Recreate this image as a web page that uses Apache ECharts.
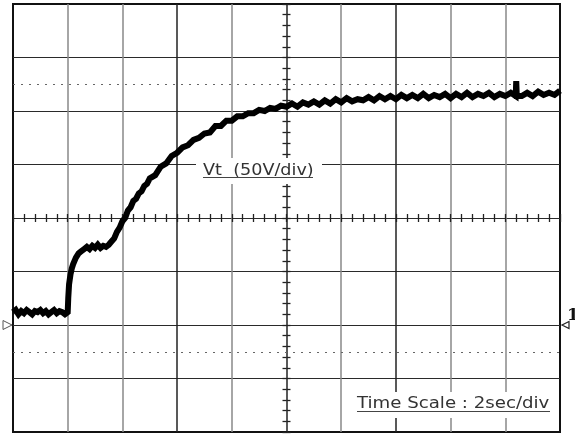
<!DOCTYPE html>
<html>
<head>
<meta charset="utf-8">
<script src="https://cdn.jsdelivr.net/npm/echarts@6/dist/echarts.min.js"></script>
<style>html,body{margin:0;padding:0;background:#fff;}#c{width:575px;height:434px;}</style>
</head>
<body>
<div id="c"></div>
<script>
// Time axis (s), 2 s/div, 10 divisions
var timeTicks = [0, 2, 4, 6, 8, 10, 12, 14, 16, 18, 20];
// Voltage axis (V), 50 V/div, ground at 0
var voltTicks = [-100, -50, 0, 50, 100, 150, 200, 250, 300];
// Dotted reference levels
var dottedLevels = [225, -25];

// Trace Vt: time (s)
var traceTime = [
  0,0.1,0.2,0.3,0.4,0.5,0.6,0.7,0.8,0.9,1.0,1.1,1.2,1.3,1.4,1.5,1.6,1.7,1.8,1.9,2.0,
  2.02,2.05,2.1,2.15,2.2,2.3,2.4,2.5,2.6,
  2.7,2.8,2.9,3.0,3.1,3.2,3.3,3.4,3.5,
  3.6,3.7,3.8,3.9,4.0,4.1,4.2,4.3,4.4,4.5,4.6,4.7,4.8,4.9,5.0,
  5.2,5.4,5.6,5.8,6.0,6.2,6.4,6.6,6.8,7.0,7.2,7.4,7.6,7.8,8.0,8.2,8.4,8.6,8.8,9.0,9.2,9.4,9.6,9.8,10.0,
  10.2,10.4,10.6,10.8,11.0,11.2,11.4,11.6,11.8,12.0,
  12.2,12.4,12.6,12.8,13.0,13.2,13.4,13.6,13.8,14.0,
  14.2,14.4,14.6,14.8,15.0,15.2,15.4,15.6,15.8,16.0,
  16.2,16.4,16.6,16.8,17.0,17.2,17.4,17.6,17.8,18.0,
  18.2,18.38,18.4,18.42,18.6,18.8,19.0,19.2,19.4,19.6,19.8,20.0
];
// Trace Vt: voltage (V)
var traceVolt = [
  12,14,10,13,11,14,12,10,13,12,14,11,13,10,12,14,11,13,12,10,12,
  25,38,47,53,57,63,67,69,71,
  73,71,74,72,75,72,74,73,75,
  78,81,87,91,97,100,107,110,116,118,123,125,130,132,137,
  140,148,151,158,161,166,168,173,175,179,180,186,186,191,191,195,195,198,198,201,200,203,202,205,204,
  207,204,208,206,209,206,210,207,211,208,
  212,209,211,210,213,210,214,211,214,211,
  215,212,215,212,216,212,215,213,216,212,
  216,213,217,213,216,214,217,213,216,214,
  217,214,228,214,214,217,214,218,215,217,215,219
];

var traceData = traceTime.map(function (t, i) { return [t, traceVolt[i]]; });

var chart = echarts.init(document.getElementById('c'), null, {renderer: 'canvas'});

// colours of inner vertical grid lines (t = 2 ... 18)
var vColors = ['#888', '#888', '#222', '#888', '#222', '#888', '#222', '#888', '#888'];
var GW = 547, GH = 428;

function tickAxisX(inside) {
  return {
    type: 'value', gridIndex: 0, min: 0, max: 20, interval: 0.4,
    position: 'bottom', offset: -GH / 2,
    axisLine: {show: false}, axisLabel: {show: false}, splitLine: {show: false},
    axisTick: {show: true, inside: inside, length: 4, lineStyle: {color: '#222', width: 1.3}}
  };
}
function tickAxisY(inside) {
  return {
    type: 'value', gridIndex: 0, min: -100, max: 300, interval: 10,
    position: 'left', offset: -GW / 2,
    axisLine: {show: false}, axisLabel: {show: false}, splitLine: {show: false},
    axisTick: {show: true, inside: inside, length: 4, lineStyle: {color: '#222', width: 1.3}}
  };
}

chart.setOption({
  backgroundColor: '#fff',
  animation: false,
  grid: {left: 13, top: 4, width: GW, height: GH, show: true, borderColor: '#111', borderWidth: 2, backgroundColor: 'transparent', containLabel: false},
  xAxis: [
    {
      type: 'value', gridIndex: 0, min: timeTicks[0], max: timeTicks[timeTicks.length - 1], interval: timeTicks[1] - timeTicks[0],
      axisLine: {show: false}, axisTick: {show: false}, axisLabel: {show: false},
      splitLine: {show: true, showMinLine: false, showMaxLine: false, lineStyle: {color: vColors, width: 1.5}}
    },
    tickAxisX(true), tickAxisX(false)
  ],
  yAxis: [
    {
      type: 'value', gridIndex: 0, min: voltTicks[0], max: voltTicks[voltTicks.length - 1], interval: voltTicks[1] - voltTicks[0],
      axisLine: {show: false}, axisTick: {show: false}, axisLabel: {show: false},
      splitLine: {show: true, showMinLine: false, showMaxLine: false, lineStyle: {color: '#2a2a2a', width: 1}}
    },
    tickAxisY(true), tickAxisY(false)
  ],
  series: [{
    name: 'Vt', type: 'line', xAxisIndex: 0, yAxisIndex: 0,
    data: traceData, showSymbol: false, symbol: 'none',
    lineStyle: {color: '#000', width: 6, join: 'miter'},
    z: 5,
    markLine: {
      silent: true, symbol: 'none', label: {show: false},
      lineStyle: {color: '#666', type: [2, 6], width: 1.2},
      data: dottedLevels.map(function (v) { return {yAxis: v}; })
    }
  }]
});

var y0 = chart.convertToPixel({gridIndex: 0}, [0, 0])[1];

chart.setOption({
  graphic: [
    // Vt label box
    {type: 'rect', shape: {x: 196, y: 158, width: 126, height: 26}, style: {fill: '#fff'}, z: 10},
    {type: 'text', x: 203, y: 163, scaleX: 1.1, style: {text: 'Vt  (50V/div)', font: '16px "DejaVu Sans"', fill: '#333', verticalAlign: 'top', textVerticalAlign: 'top'}, z: 11},
    {type: 'line', shape: {x1: 203, y1: 177.5, x2: 313, y2: 177.5}, style: {stroke: '#444', lineWidth: 1}, z: 11},
    // Time scale label box
    {type: 'rect', shape: {x: 352, y: 392, width: 204, height: 26}, style: {fill: '#fff'}, z: 10},
    {type: 'text', x: 357, y: 396, scaleX: 1.135, style: {text: 'Time Scale : 2sec/div', font: '16px "DejaVu Sans"', fill: '#333', verticalAlign: 'top', textVerticalAlign: 'top'}, z: 11},
    {type: 'line', shape: {x1: 357, y1: 411.5, x2: 550, y2: 411.5}, style: {stroke: '#444', lineWidth: 1}, z: 11},
    // Ground marker (left)
    {type: 'polygon', shape: {points: [[3, y0 - 4.5], [12, y0], [3, y0 + 4.5]]}, style: {fill: '#fff', stroke: '#555', lineWidth: 1}, z: 11},
    // Channel 1 marker (right)
    {type: 'polygon', shape: {points: [[569, y0 - 3.5], [562, y0], [569, y0 + 3.5]]}, style: {fill: '#fff', stroke: '#222', lineWidth: 1.2}, z: 11},
    {type: 'text', x: 567, y: y0 - 18, style: {text: '1', font: 'bold 17px "DejaVu Serif"', fill: '#111', verticalAlign: 'top', textVerticalAlign: 'top'}, z: 11}
  ]
});
</script>
</body>
</html>
